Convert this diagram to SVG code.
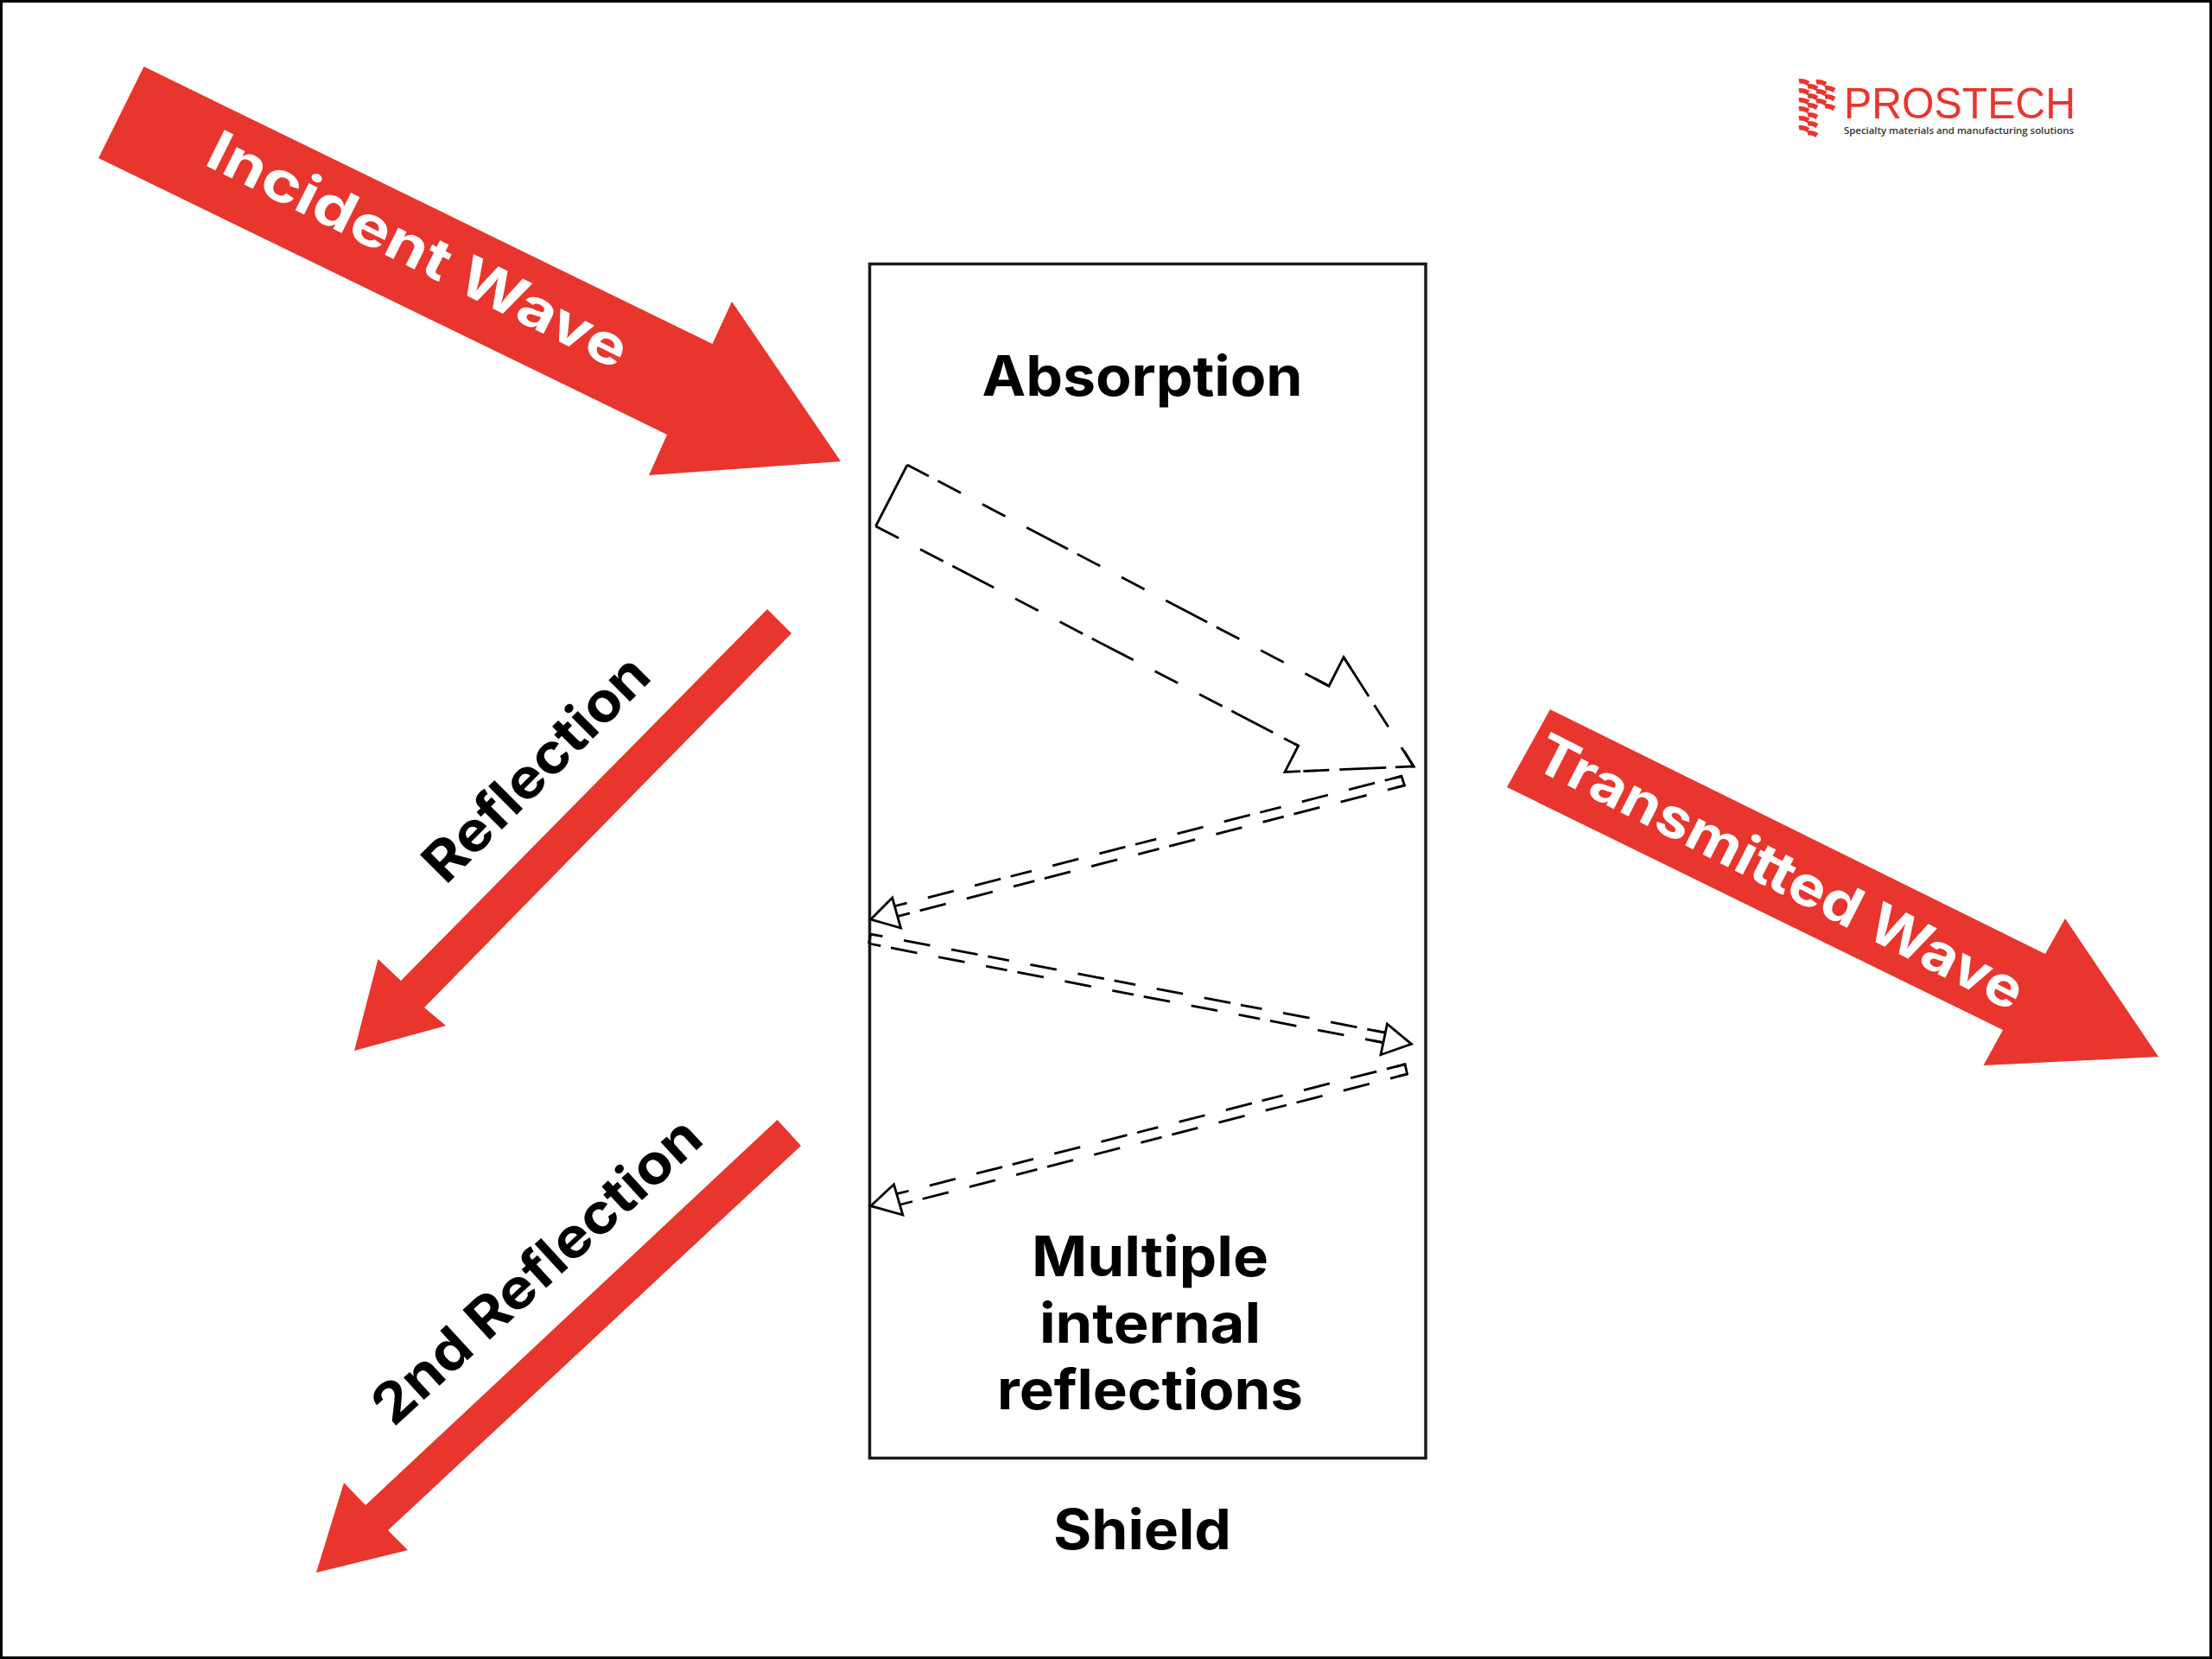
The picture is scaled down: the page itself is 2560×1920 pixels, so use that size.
<svg xmlns="http://www.w3.org/2000/svg" width="2560" height="1920" viewBox="0 0 2560 1920">
<defs>
<path id="flagbit" d="M0,0q5,-1 11,2.500" fill="none" stroke="#e8352d" stroke-width="5.500"/>
</defs>
<style>
.red{fill:#e8352d}
.line{fill:none;stroke:#000;stroke-width:2.800;stroke-linejoin:miter}
.a1t{stroke-dasharray:54 12 30 28 30 28;stroke-dashoffset:26}
.a1b{stroke-dasharray:30 28 30 12 54 28}
.top{stroke-dasharray:25 25 31 25 31 12;stroke-dashoffset:11}
.bot{stroke-dasharray:25 12 31 25 31 25;stroke-dashoffset:11}
text{font-family:"Inter","Open Sans","Liberation Sans",sans-serif;font-weight:700}
.w{fill:#fff;font-size:64px;text-anchor:middle}
.b{fill:#000;font-size:64px;text-anchor:middle}
</style>
<rect x="0" y="0" width="2560" height="1920" fill="#fff"/>
<rect x="1.500" y="1.500" width="2557" height="1917" fill="none" stroke="#000" stroke-width="3"/>
<g id="shield"><rect x="1006.500" y="305.500" width="643.500" height="1382" fill="none" stroke="#1a1a1a" stroke-width="3.500"/>
<text class="b" x="1322" y="1793" textLength="206" lengthAdjust="spacingAndGlyphs">Shield</text></g>
<g id="absorption"><text class="b" x="1322" y="458" textLength="371" lengthAdjust="spacingAndGlyphs">Absorption</text></g>
<g id="multiple"><text class="b" x="1331" y="1477" textLength="274" lengthAdjust="spacingAndGlyphs">Multiple</text><text class="b" x="1331" y="1554" textLength="256" lengthAdjust="spacingAndGlyphs">internal</text><text class="b" x="1331" y="1631" textLength="354" lengthAdjust="spacingAndGlyphs">reflections</text></g>
<g id="incident"><polygon class="red" points="166.500,77 824.500,398 847,349 973,534 751,550 772,503 114,183"/>
<text class="w" transform="translate(474,309) rotate(26.500)" textLength="535" lengthAdjust="spacingAndGlyphs">Incident Wave</text></g>
<g id="reflection"><polygon class="red" points="888,705 916,733 491,1166 516,1187 410,1216 437.500,1110 464,1135"/>
<text class="b" transform="translate(636,905) rotate(-45)" textLength="340" lengthAdjust="spacingAndGlyphs">Reflection</text></g>
<g id="second"><polygon class="red" points="899.600,1296 927,1326 449,1771 472,1794 366,1820 398,1716 423,1742"/>
<text class="b" transform="translate(636,1487) rotate(-42.500)" textLength="490" lengthAdjust="spacingAndGlyphs">2nd Reflection</text></g>
<g id="transmitted"><polygon class="red" points="1794,821 2367,1104 2390,1063 2498,1223 2295.500,1233 2318,1192 1744,911"/>
<text class="w" transform="translate(2050,1029) rotate(27)" textLength="625" lengthAdjust="spacingAndGlyphs">Transmitted Wave</text></g>
<g id="connectors">
<path class="line a1t" d="M1050,538L1538,794"/>
<path class="line" d="M1522,785.600L1538,794L1555,760.500L1563,773"/>
<path class="line a1t" d="M1555,760.500L1636,887L1487,893.400" style="stroke-dashoffset:0"/>
<path class="line a1b" d="M1013.500,609L1502.600,863"/>
<path class="line" d="M1486,854.400L1502.600,863L1487,893.400L1505,892.600"/>
<path class="line" d="M1615,887.900L1636,887L1625,869"/>
<path class="line" d="M1050,538L1013.500,609"/>
<path class="line" d="M1032.700,1039L1007.700,1064L1042.500,1074Z"/>
<path class="line top" d="M1036,1048.500L1622,898.300"/>
<path class="line bot" d="M1039.400,1060.300L1625.500,909"/>
<path class="line" d="M1612,901L1622,898.300L1625.500,909L1615,911.700"/>
<path class="line top" d="M1007.700,1081L1603,1195"/>
<path class="line bot" d="M1005.500,1092L1601,1206.700"/>
<path class="line" d="M1007.700,1081L1005.500,1092"/>
<path class="line" d="M1590,1192.500L1603,1195M1588,1204.200L1601,1206.700"/>
<path class="line" d="M1605.400,1185L1633.500,1208.300L1598,1220.700Z"/>
<path class="line" d="M1034.500,1370.700L1007.700,1395.700L1044.800,1406Z"/>
<path class="line top" d="M1038,1381.700L1626,1231.700"/>
<path class="line bot" d="M1042.500,1394L1628.600,1243"/>
<path class="line" d="M1616,1234.500L1626,1231.700L1628.600,1243L1618,1245.700"/>
</g>
<g id="logo">
<use href="#flagbit" x="2082" y="94"/><use href="#flagbit" x="2082" y="105"/><use href="#flagbit" x="2082" y="116"/><use href="#flagbit" x="2082" y="126"/><use href="#flagbit" x="2082" y="137"/><use href="#flagbit" x="2082" y="148"/>
<use href="#flagbit" x="2092" y="100"/><use href="#flagbit" x="2092" y="111"/><use href="#flagbit" x="2092" y="122"/><use href="#flagbit" x="2092" y="133"/><use href="#flagbit" x="2092" y="143"/><use href="#flagbit" x="2092" y="154"/>
<use href="#flagbit" x="2102" y="95"/><use href="#flagbit" x="2102" y="106"/><use href="#flagbit" x="2102" y="117"/>
<use href="#flagbit" x="2112" y="102"/><use href="#flagbit" x="2112" y="112"/><use href="#flagbit" x="2112" y="123"/>
<text x="2134" y="137" fill="#e8352d" font-size="50" style="font-family:'Liberation Sans',sans-serif;font-weight:400" textLength="268" lengthAdjust="spacingAndGlyphs">PROSTECH</text>
<text x="2134" y="155" fill="#333" font-size="11.500" textLength="266" style="font-family:'Open Sans',sans-serif;font-weight:600">Specialty materials and manufacturing solutions</text>
</g>
</svg>
